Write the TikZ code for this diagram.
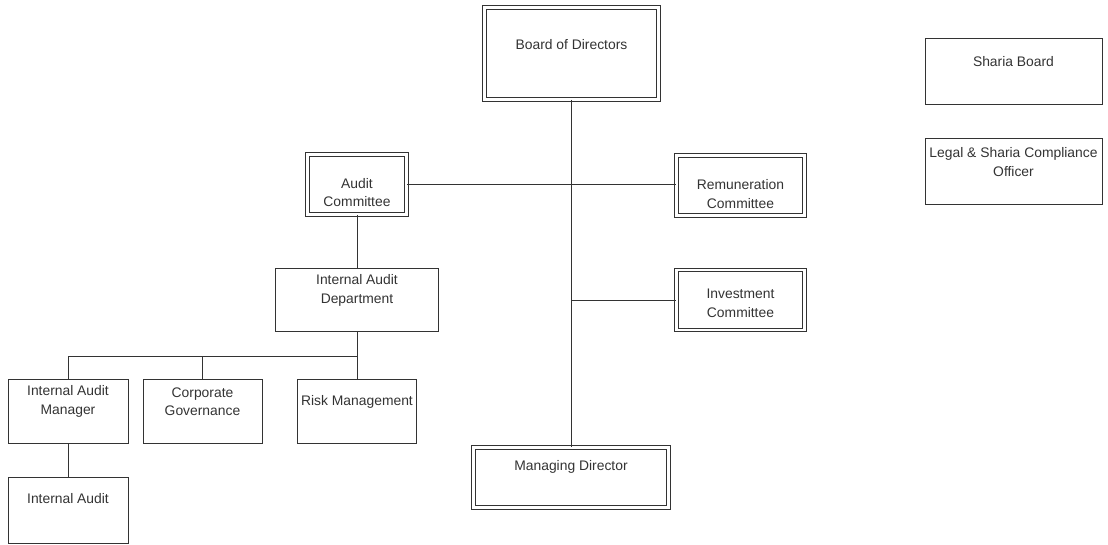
\documentclass[tikz,border=0pt]{standalone}
\usepackage{fontspec}
\setmainfont{Liberation Sans}
\usetikzlibrary{calc,positioning}

\begin{document}
\begin{tikzpicture}[-,
    x=0.75pt, y=-0.75pt,
    color=black!80,
    line width=0.75pt,
    node distance=24.75pt,
    every node/.style={font=\fontsize{10.4pt}{14pt}\selectfont, align=center}]
  \tikzstyle{post}=[draw, inner sep=0pt, minimum height=48pt]
  \tikzstyle{council}=[post, double, double distance=2.2pt, line width=0.7pt, minimum height=45pt]

  \useasboundingbox (0,0) rectangle (1108,544);

  \node[council, minimum width=130.5pt, minimum height=69pt,
        label={[yshift=6.4pt]center:Board of Directors}]           (board)  at (571.5,53.5) {};
  \node[post, minimum width=132.75pt, minimum height=49.5pt,
        label={[yshift=6.75pt]center:Sharia Board}]                (sharia) at (1013.5,71) {};
  \node[post, minimum width=132.75pt, minimum height=49.5pt,
        label={[yshift=6.75pt]center:Legal \& Sharia Compliance\\Officer},
        below=of sharia]                                           (legal)  {};
  \node[council, minimum width=74.25pt,
        label={[yshift=-6pt]center:Audit\\Committee}]              (ac)     at (357,184.5) {};
  \node[council, minimum width=96pt,
        label={[yshift=-6.4pt]center:Remuneration\\Committee}]     (rc)     at (740.5,185.5) {};
  \node[council, minimum width=96pt,
        label={[yshift=-2.25pt]center:Investment\\Committee}]      (ic)     at (740.5,300) {};
  \node[post, minimum width=122.25pt, minimum height=47.25pt,
        label={[yshift=7pt]center:Internal Audit\\Department}]     (iad)    at (357,300) {};
  \node[post, minimum width=90pt,
        label={[yshift=7pt]center:Internal Audit\\Manager}]        (iam)    at (68,411) {};
  \node[post, minimum width=89.25pt,
        label={[yshift=7pt]center:Corporate\\Governance},
        right=10.5pt of iam]                                       (cg)     {};
  \node[post, minimum width=89.25pt,
        label={[yshift=6.75pt]center:Risk Management}]             (rm)     at (357,411) {};
  \node[post, minimum width=90pt, minimum height=49.5pt,
        label={[yshift=8.25pt]center:Internal Audit},
        below=of iam]                                              (ia)     {};
  \node[council, minimum width=146.25pt,
        label={[yshift=7.9pt]center:Managing Director}]            (md)     at (571,477.5) {};

  \coordinate (bus) at (357,356);

  \path (board.south)         edge (board.south |- md.north)
        (ac)                  edge (ac -| rc.west)
        (ic.west -| board.south) edge (ic.west)
        (ac)                  edge (iad)
        (iam)                 edge (ia);
  \draw (iad.south) -- (bus) -| (iam.north);
  \draw (bus -| cg.north) -- (cg.north);
  \draw (bus) -- (rm.north);
\end{tikzpicture}
\end{document}
